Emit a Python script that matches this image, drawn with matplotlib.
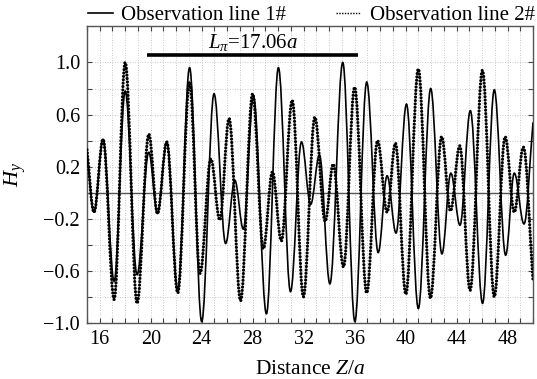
import matplotlib.pyplot as plt
from matplotlib.ticker import FixedLocator, MultipleLocator, FuncFormatter
from matplotlib.path import Path
from matplotlib.patches import PathPatch
from matplotlib.lines import Line2D

plt.rcParams['font.family'] = ['Liberation Serif', 'DejaVu Serif']
plt.rcParams['mathtext.fontset'] = 'custom'
plt.rcParams['mathtext.rm'] = 'Liberation Serif'
plt.rcParams['mathtext.it'] = 'Liberation Serif:italic'

# turning points: distance Z/a and H_y
z1 = [15.0, 15.55, 16.26, 17.13, 18.0, 18.93, 19.85, 20.53, 21.26, 22.12,
      23.05, 24.0, 24.97, 25.88, 26.6, 27.27, 28.06, 29.08, 30.02, 30.97,
      31.83, 32.55, 33.24, 34.06, 35.07, 36.02, 36.95, 37.85, 38.55, 39.25,
      40.07, 41.0, 41.97, 42.85, 43.55, 44.27, 45.08, 46.04, 46.96, 47.85,
      48.53, 49.29, 50.0]
h1 = [0.30, -0.15, 0.41, -0.68, 0.78, -0.63, 0.31, -0.16, 0.39, -0.75,
      0.96, -0.99, 0.76, -0.39, 0.095, -0.28, 0.74, -0.93, 0.96, -0.76,
      0.39, -0.09, 0.29, -0.70, 1.0, -0.99, 0.85, -0.46, 0.13, -0.31,
      0.68, -0.89, 0.80, -0.47, 0.15, -0.25, 0.63, -0.85, 0.79, -0.48,
      0.15, -0.24, 0.54]

z2 = [15.0, 15.55, 16.26, 17.13, 18.0, 18.93, 19.85, 20.53, 21.26, 22.12,
      23.05, 23.87, 24.72, 25.42, 26.15, 27.05, 28.0, 28.84, 29.55, 30.25,
      31.1, 31.98, 32.88, 33.69, 34.32, 35.13, 36.0, 36.95, 37.8, 38.55,
      39.2, 40.02, 41.0, 41.95, 42.83, 43.52, 44.25, 45.06, 46.03, 46.96,
      47.81, 48.53, 49.24, 50.0]
h2 = [0.33, -0.15, 0.41, -0.82, 1.0, -0.85, 0.45, -0.16, 0.39, -0.77,
      0.85, -0.62, 0.26, -0.21, 0.57, -0.83, 0.76, -0.43, 0.16, -0.37,
      0.71, -0.80, 0.58, -0.22, 0.22, -0.57, 0.81, -0.77, 0.40, -0.15,
      0.38, -0.78, 0.95, -0.81, 0.43, -0.14, 0.36, -0.75, 0.94, -0.80,
      0.43, -0.15, 0.35, -0.68]

labels = ['Observation line 1#', 'Observation line 2#']
bar_z = [19.7, 36.3]
bar_h = [1.056, 1.056]
bar_text = r'$L_\pi$=17.06$a$'


def smooth_path(z, h, k=0.363):
    # cubic pieces between turning points, flat tangent at each turning point
    verts = [(z[0], h[0])]
    codes = [Path.MOVETO]
    n = len(z)
    for i in range(n - 1):
        dz = z[i + 1] - z[i]
        dh = h[i + 1] - h[i]
        s0 = dh if i == 0 else 0.0
        s1 = dh if i == n - 2 else 0.0
        verts += [(z[i] + k * dz, h[i] + k * s0),
                  (z[i + 1] - k * dz, h[i + 1] - k * s1),
                  (z[i + 1], h[i + 1])]
        codes += [Path.CURVE4] * 3
    return Path(verts, codes)


fig = plt.figure(figsize=(5.37, 3.79), dpi=100)
ax = fig.add_axes([0.162, 0.148, 0.8306, 0.7834])

ax.axhline(0, color='#555555', lw=1.0, zorder=2)
ax.add_patch(PathPatch(smooth_path(z1, h1), fill=False, ec='black', lw=1.2, zorder=3))
ax.add_patch(PathPatch(smooth_path(z2, h2), fill=False, ec='black', lw=2.3,
                       ls=(0, (0.01, 1.05)), capstyle='round', zorder=4))

ax.plot(bar_z, bar_h, color='black', lw=2.6, solid_capstyle='butt', zorder=5)
ax.text(sum(bar_z) / 2, 1.075, bar_text, ha='center', va='bottom', fontsize=15)

ax.set_xlim(15, 50)
ax.set_ylim(-1, 1.28)
ax.xaxis.set_major_locator(FixedLocator(range(16, 49, 4)))
ax.xaxis.set_minor_locator(MultipleLocator(1))
ax.yaxis.set_major_locator(FixedLocator([-1.0, -0.6, -0.2, 0.2, 0.6, 1.0]))
ax.yaxis.set_minor_locator(FixedLocator([-0.8, -0.4, 0.0, 0.4, 0.8]))
ax.yaxis.set_major_formatter(FuncFormatter(lambda v, p: f'{v:.1f}'.replace('-', '\u2212')))
ax.tick_params(which='both', direction='in', top=True, right=True,
               length=3.5, width=0.8, color='#444444', labelsize=14.5, pad=5)
ax.grid(which='both', ls=(0, (1, 2)), lw=0.6, color='#b5b5b5')
for s in ax.spines.values():
    s.set_color('#555555')
    s.set_linewidth(1.0)

ax.set_xlabel(r'Distance $Z/a$', fontsize=15.5)
ax.xaxis.set_label_coords(0.5, -0.125)
ax.xaxis.label.set_va('top')
ax.set_ylabel(r'$H_y$', fontsize=16)
ax.yaxis.set_label_coords(-0.132, 0.5)

handles = [Line2D([], [], color='black', lw=1.2),
           Line2D([], [], color='black', lw=1.0, ls=(0, (1, 1)))]
ax.legend(handles, labels, ncol=2, loc='center left', bbox_to_anchor=(88 / 537, 0.96),
          bbox_transform=fig.transFigure, frameon=False, fontsize=15,
          handlelength=1.2, handletextpad=0.4, columnspacing=2.4,
          borderpad=0, borderaxespad=0)

fig.savefig('out.png', dpi=100)
